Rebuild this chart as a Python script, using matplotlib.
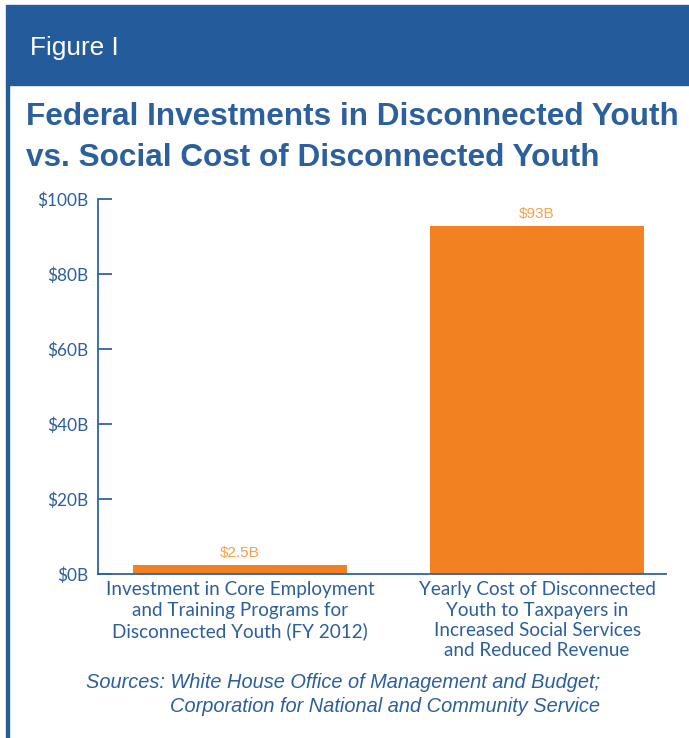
import matplotlib
matplotlib.use("Agg")
import matplotlib.pyplot as plt
from matplotlib.patches import Rectangle

# values in billions of dollars
categories = [
    "Investment in Core Employment\nand Training Programs for\nDisconnected Youth (FY 2012)",
    "Yearly Cost of Disconnected\nYouth to Taxpayers in\nIncreased Social Services\nand Reduced Revenue",
]
values = [2.5, 93]
value_labels = ["$2.5B", "$93B"]
yticks = [0, 20, 40, 60, 80, 100]
ytick_labels = ["$0B", "$20B", "$40B", "$60B", "$80B", "$100B"]

blue = "#245c9b"
text_blue = "#2c5f9e"
orange = "#f28122"
light_orange = "#f6a04c"

W, H = 689, 738
fig = plt.figure(figsize=(W / 100, H / 100), dpi=100)

# header band and left border
fig.patches.append(Rectangle((6 / W, 1 - 85 / H), 1, 80 / H, transform=fig.transFigure,
                             color=blue, zorder=0))
fig.patches.append(Rectangle((6 / W, 0), 2.5 / W, 1 - 85 / H, transform=fig.transFigure,
                             color=blue, zorder=0))

fig.text(30 / W, 1 - 48 / H, "Figure I", color="white", fontsize=18.9,
         family="Liberation Sans", va="center", ha="left")
fig.text(26 / W, 1 - 117 / H, "Federal Investments in Disconnected Youth", color=text_blue,
         fontsize=22.65, weight="bold", family="Liberation Sans", va="center", ha="left")
fig.text(26 / W, 1 - 158 / H, "vs. Social Cost of Disconnected Youth", color=text_blue,
         fontsize=22.65, weight="bold", family="Liberation Sans", va="center", ha="left")

ax = fig.add_axes([98 / W, 1 - 574.3 / H, (666 - 98) / W, (574.3 - 199.3) / H])
x = [0, 1]
ax.bar(x, values, width=0.72, color=orange, zorder=2)
for xi, v, lab in zip(x, values, value_labels):
    ax.text(xi, v + 1.2, lab, color=light_orange, fontsize=11, ha="center", va="bottom",
            family=["Liberation Sans Narrow", "Liberation Sans"])

ax.set_xlim(-0.478, 1.434)
ax.set_ylim(0, 100)
ax.set_yticks(yticks)
ax.set_yticklabels(ytick_labels, family="Lato", fontsize=12.4, color=text_blue)
ax.set_xticks(x)
ax.set_xticklabels(categories, family="Lato", fontsize=13.6, color=text_blue, linespacing=1.24)

for side in ["top", "right"]:
    ax.spines[side].set_visible(False)
for side in ["left", "bottom"]:
    ax.spines[side].set_color("#2e64a0")
    ax.spines[side].set_linewidth(1.3)
ax.tick_params(axis="y", direction="in", length=10, width=1.3, color="#2e64a0", pad=7)
ax.tick_params(axis="x", length=0, pad=5)

fig.text(86 / W, 1 - 682 / H, "Sources: White House Office of Management and Budget;",
         color=text_blue, fontsize=14.4, style="italic", family="Liberation Sans", va="center")
fig.text(170 / W, 1 - 706 / H, "Corporation for National and Community Service",
         color=text_blue, fontsize=14.4, style="italic", family="Liberation Sans", va="center")

fig.savefig("out.png", dpi=100)
